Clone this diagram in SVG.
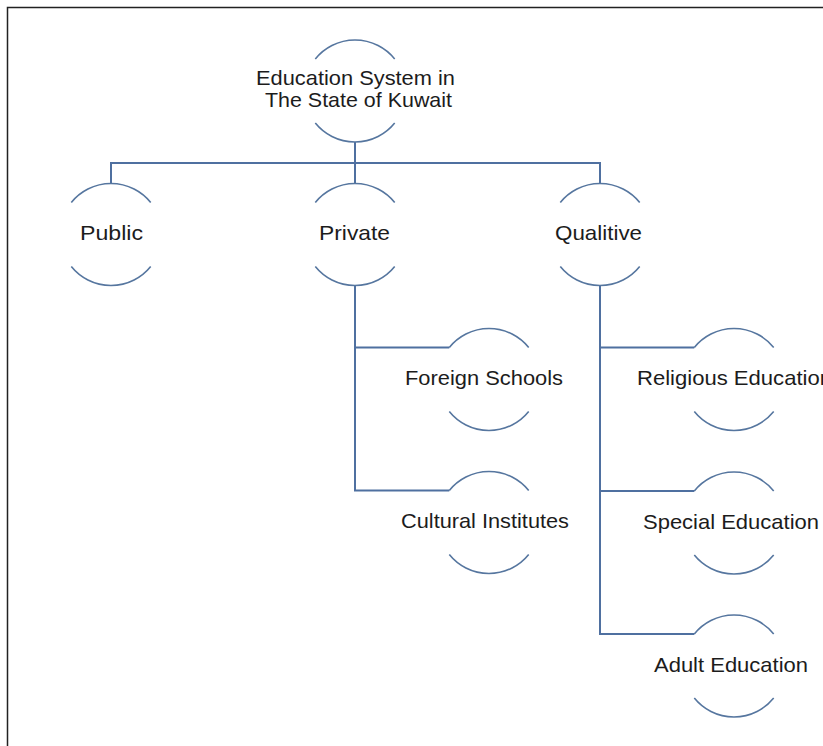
<svg xmlns="http://www.w3.org/2000/svg" width="823" height="746" viewBox="0 0 823 746">
  <style>
    .arc { fill: none; stroke: #56769f; stroke-width: 1.6; }
    .link { fill: none; stroke: #4f70a0; stroke-width: 2; }
    .label { font-family: "Liberation Sans", Arial, sans-serif; font-size: 21px; fill: #1c1c1c; }
  </style>
  <defs>
    <!-- open circle: only the top and bottom arcs are stroked -->
    <g id="ring">
      <path class="arc" d="M -39.7 -32 A 51 51 0 0 1 39.7 -32"/>
      <path class="arc" d="M -39.7 32 A 51 51 0 0 0 39.7 32"/>
    </g>
  </defs>

  <rect width="823" height="746" fill="#ffffff"/>
  <!-- page frame -->
  <rect x="7.5" y="7.5" width="830" height="760" fill="none" stroke="#222222" stroke-width="1.5"/>

  <g id="connectors">
    <path class="link" d="M 355 142 V 163 M 111 184 V 163 H 600 V 184 M 355 163 V 184"/>
    <path class="link" d="M 355 285.5 V 490.5 H 449.3 M 355 347.5 H 449.3"/>
    <path class="link" d="M 600 285.5 V 634 H 694.3 M 600 347.5 H 694.3 M 600 491 H 694.3"/>
  </g>

  <g id="root">
    <use href="#ring" x="355" y="91"/>
    <text class="label" x="256" y="85" textLength="199" lengthAdjust="spacingAndGlyphs">Education System in</text>
    <text class="label" x="265" y="107" textLength="187" lengthAdjust="spacingAndGlyphs">The State of Kuwait</text>
  </g>
  <g id="public">
    <use href="#ring" x="111" y="234.5"/>
    <text class="label" x="80" y="240" textLength="63" lengthAdjust="spacingAndGlyphs">Public</text>
  </g>
  <g id="private">
    <use href="#ring" x="355" y="234.5"/>
    <text class="label" x="319" y="240" textLength="71" lengthAdjust="spacingAndGlyphs">Private</text>
  </g>
  <g id="qualitive">
    <use href="#ring" x="600" y="234.5"/>
    <text class="label" x="555" y="240" textLength="87" lengthAdjust="spacingAndGlyphs">Qualitive</text>
  </g>
  <g id="foreign-schools">
    <use href="#ring" x="489" y="379.5"/>
    <text class="label" x="405" y="385" textLength="158" lengthAdjust="spacingAndGlyphs">Foreign Schools</text>
  </g>
  <g id="cultural-institutes">
    <use href="#ring" x="489" y="522.5"/>
    <text class="label" x="401" y="528" textLength="168" lengthAdjust="spacingAndGlyphs">Cultural Institutes</text>
  </g>
  <g id="religious-education">
    <use href="#ring" x="734" y="379.5"/>
    <text class="label" x="637" y="385" textLength="195" lengthAdjust="spacingAndGlyphs">Religious Education</text>
  </g>
  <g id="special-education">
    <use href="#ring" x="734" y="523"/>
    <text class="label" x="643" y="528.5" textLength="176" lengthAdjust="spacingAndGlyphs">Special Education</text>
  </g>
  <g id="adult-education">
    <use href="#ring" x="734" y="666"/>
    <text class="label" x="654" y="671.5" textLength="154" lengthAdjust="spacingAndGlyphs">Adult Education</text>
  </g>
</svg>
